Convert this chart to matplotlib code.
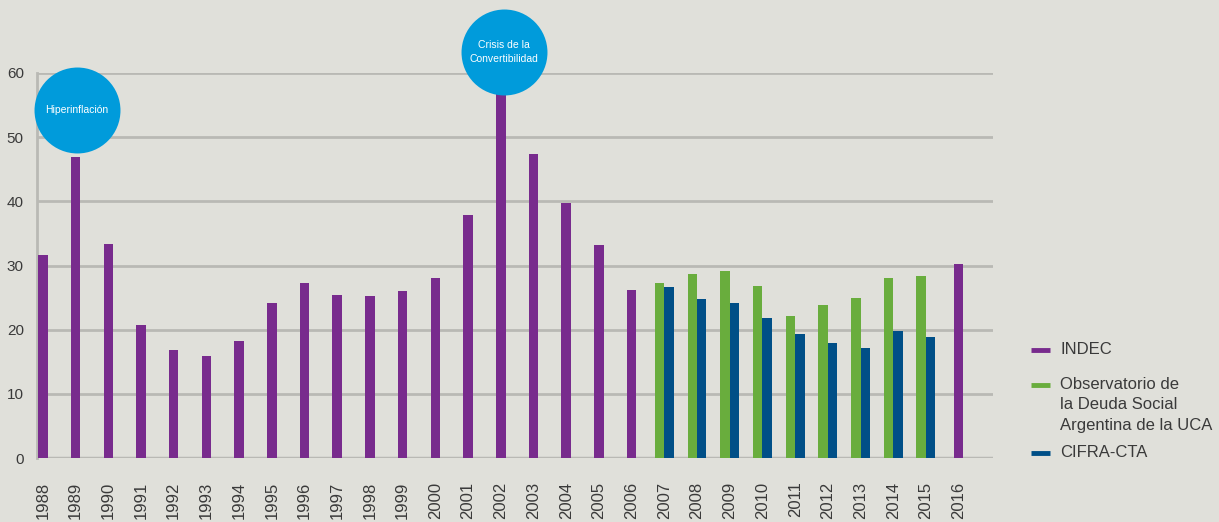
"""
Poverty rate in Argentina 1988-2016 by source (INDEC, UCA, CIFRA-CTA)
"""
import numpy as np
import matplotlib
matplotlib.use("Agg")
import matplotlib.pyplot as plt
from matplotlib.lines import Line2D

# data
years = list(range(1988, 2017))
indec_years = list(range(1988, 2007)) + [2016]
indec = [31.7, 46.9, 33.3, 20.8, 16.9, 15.9, 18.2, 24.1, 27.3, 25.4,
         25.2, 26.0, 28.1, 37.8, 57.5, 47.3, 39.7, 33.2, 26.2, 30.3]
pair_years = list(range(2007, 2016))
uca = [27.2, 28.6, 29.2, 26.8, 22.1, 23.8, 24.9, 28.0, 28.3]
cifra = [26.6, 24.8, 24.2, 21.8, 19.4, 18.0, 17.2, 19.8, 18.9]
y_ticks = [0, 10, 20, 30, 40, 50, 60]
legend_labels = ["INDEC",
                 "Observatorio de\nla Deuda Social\nArgentina de la UCA",
                 "CIFRA-CTA"]
events = ["Hiperinflación", "Crisis de la\nConvertibilidad"]

BG = "#e0e0da"
GRID = "#b9b9b4"
PURPLE = "#782b8d"
GREEN = "#69ad3d"
BLUE = "#004f87"
CIRCLE = "#009bdb"
TXT = "#3a3a3a"

plt.rcParams['font.family'] = ['Liberation Sans Narrow', 'Liberation Sans', 'DejaVu Sans']

W, H = 1219, 522
fig = plt.figure(figsize=(W / 100, H / 100), dpi=100, facecolor=BG)
ax = fig.add_axes([37 / W, (H - 458) / H, (993 - 37) / W, (458 - 73) / H])
ax.set_facecolor(BG)

x_all = np.arange(len(years))
idx = {y: i for i, y in enumerate(years)}
bw = 0.29

ax.bar([idx[y] for y in indec_years], indec, width=bw, color=PURPLE, zorder=3)
px = np.array([idx[y] for y in pair_years])
ax.bar(px - bw / 2, uca, width=bw, color=GREEN, zorder=3)
ax.bar(px + bw / 2, cifra, width=bw, color=BLUE, zorder=3)

ax.set_xlim(-0.18, 29.05)
ax.set_ylim(0, 60)
ax.set_yticks(y_ticks)
ax.set_yticklabels([str(t) for t in y_ticks], fontsize=11, color=TXT)
ax.set_xticks(x_all)
ax.set_xticklabels([str(y) for y in years], rotation=90, fontsize=12,
                   color=TXT, va='top')
ax.tick_params(axis='y', length=0, pad=9.5)
ax.tick_params(axis='x', length=0, pad=17)

ax.grid(axis='y', color=GRID, linewidth=2, zorder=1)
for s in ['top', 'right', 'bottom']:
    ax.spines[s].set_visible(False)
ax.spines['left'].set_color(GRID)
ax.spines['left'].set_linewidth(2)
ax.axhline(0, color=GRID, linewidth=2.5, zorder=2)

# event circles
circle_pos = [(1.03, 54.2), (14.1, 63.2)]
for (cx, cy), label in zip(circle_pos, events):
    ax.scatter([cx], [cy], s=3830, color=CIRCLE, zorder=5, clip_on=False,
               linewidths=0)
    ax.text(cx, cy, label, color='white', fontsize=7.5, ha='center',
            va='center', zorder=6, linespacing=1.5)

# legend drawn by hand so the swatch sits on the first text line
leg_colors = [PURPLE, GREEN, BLUE]
leg_y = [350, 385, 453]
for c, lab, yy in zip(leg_colors, legend_labels, leg_y):
    fy = 1 - yy / H
    fig.add_artist(Line2D([1031 / W, 1050 / W], [fy, fy], color=c,
                          linewidth=3.5, solid_capstyle='butt'))
    fig.text(1060 / W, fy + 8 / H, lab, fontsize=12, color=TXT,
             family=['Liberation Sans', 'DejaVu Sans'], va='top', ha='left',
             linespacing=1.45)

fig.savefig('out.png', dpi=100, facecolor=BG)
